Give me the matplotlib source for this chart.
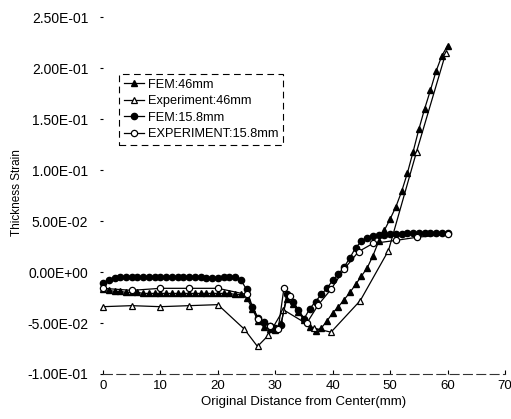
import matplotlib
matplotlib.use("Agg")
import matplotlib.pyplot as plt
from matplotlib.ticker import FuncFormatter

plt.rcParams['font.family'] = ['Liberation Sans', 'DejaVu Sans']

# FEM 46mm (filled triangles)
fem46_x = [0, 1, 2, 3, 4, 5, 6, 7, 8, 9, 10, 11, 12, 13, 14, 15, 16, 17, 18, 19, 20,
           21, 22, 23, 24, 25, 26, 27, 28, 29, 30, 31, 32, 33, 34, 35, 36, 37, 38, 39, 40,
           41, 42, 43, 44, 45, 46, 47, 48, 49, 50, 51, 52, 53, 54, 55, 56, 57, 58, 59, 60]
fem46_y = [-0.017, -0.018, -0.019, -0.019, -0.020, -0.020, -0.020, -0.021, -0.021, -0.021, -0.021,
           -0.021, -0.021, -0.021, -0.021, -0.021, -0.021, -0.021, -0.021, -0.021, -0.021,
           -0.021, -0.021, -0.022, -0.022, -0.025, -0.036, -0.048, -0.054, -0.056, -0.057,
           -0.050, -0.026, -0.031, -0.039, -0.047, -0.054, -0.058, -0.055, -0.048, -0.040,
           -0.034, -0.027, -0.020, -0.012, -0.004, 0.004, 0.016, 0.030, 0.041, 0.052,
           0.064, 0.079, 0.097, 0.118, 0.140, 0.160, 0.178, 0.197, 0.212, 0.222]

# Experiment 46mm (open triangles)
exp46_x = [0, 5, 10, 15, 20, 24.6, 26.9, 28.8, 31.4, 36.7, 39.7, 44.8, 49.7, 54.6, 59.7]
exp46_y = [-0.034, -0.033, -0.034, -0.033, -0.032, -0.056, -0.073, -0.062, -0.037, -0.055,
           -0.059, -0.028, 0.021, 0.118, 0.215]

# FEM 15.8mm (filled circles)
fem158_x = fem46_x
fem158_y = [-0.011, -0.008, -0.006, -0.005, -0.005, -0.005, -0.005, -0.005, -0.005, -0.005, -0.005,
            -0.005, -0.005, -0.005, -0.005, -0.005, -0.005, -0.005, -0.006, -0.006, -0.006,
            -0.005, -0.005, -0.005, -0.008, -0.017, -0.034, -0.045, -0.049, -0.053, -0.055,
            -0.052, -0.022, -0.029, -0.037, -0.046, -0.036, -0.029, -0.022, -0.016, -0.008,
            -0.002, 0.005, 0.014, 0.024, 0.030, 0.033, 0.035, 0.036, 0.036, 0.037,
            0.037, 0.037, 0.038, 0.038, 0.038, 0.038, 0.038, 0.038, 0.038, 0.038]

# EXPERIMENT 15.8mm (open circles)
exp158_x = [0, 5, 10, 15, 20, 25, 27, 29, 30.5, 31.5, 32.5, 35.5, 37.5, 39.7, 42, 44.5, 47, 51, 54.6, 60]
exp158_y = [-0.016, -0.018, -0.016, -0.016, -0.016, -0.022, -0.046, -0.053, -0.056, -0.016,
            -0.024, -0.050, -0.032, -0.017, 0.003, 0.020, 0.028, 0.031, 0.034, 0.037]

fig = plt.figure(figsize=(5.11, 4.19), dpi=100)
ax = fig.add_axes([0.2016, 0.1074, 0.7867, 0.852])

ax.plot(fem46_x, fem46_y, color='black', lw=0.9, marker='^', ms=4,
        mfc='black', mec='black', label='FEM:46mm', clip_on=False)
ax.plot(exp46_x, exp46_y, color='black', lw=0.9, marker='^', ms=4.5,
        mfc='white', mec='black', mew=0.9, label='Experiment:46mm', clip_on=False)
ax.plot(fem158_x, fem158_y, color='black', lw=0.9, marker='o', ms=4.5,
        mfc='black', mec='black', label='FEM:15.8mm', clip_on=False)
ax.plot(exp158_x, exp158_y, color='black', lw=0.9, marker='o', ms=4.5,
        mfc='white', mec='black', mew=0.9, label='EXPERIMENT:15.8mm', clip_on=False)

ax.set_xlim(0, 70)
ax.set_ylim(-0.1, 0.25)
ax.set_xticks(range(0, 71, 10))
ax.set_yticks([-0.1, -0.05, 0, 0.05, 0.1, 0.15, 0.2, 0.25])
ax.yaxis.set_major_formatter(FuncFormatter(lambda v, p: f"{v:.2E}"))

for s in ['top', 'right', 'left']:
    ax.spines[s].set_visible(False)
ax.spines['bottom'].set_linestyle((0, (8, 4)))
ax.spines['bottom'].set_color('#333333')
ax.spines['bottom'].set_linewidth(0.8)

ax.tick_params(axis='y', length=2.5, width=0.8, pad=8, labelsize=10)
ax.tick_params(axis='x', direction='in', length=3, width=0.8, pad=4, labelsize=9.5)

ax.set_xlabel('Original Distance from Center(mm)', fontsize=9.5, labelpad=3)
ax.set_ylabel('Thickness Strain', fontsize=8.5)
ax.yaxis.set_label_coords(-0.2, 0.507)

leg = ax.legend(loc='upper left', bbox_to_anchor=(0.025, 0.857), fontsize=9.2,
                handlelength=1.6, handletextpad=0.3, labelspacing=0.35,
                borderpad=0.35, fancybox=False, framealpha=1)
leg.get_frame().set_edgecolor('black')
leg.get_frame().set_linewidth(0.8)
leg.get_frame().set_linestyle((0, (6, 4)))

fig.savefig('out.png', dpi=100)
